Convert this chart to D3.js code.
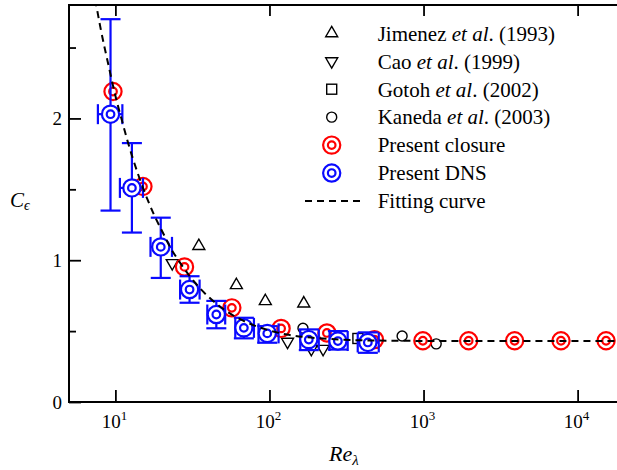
<!DOCTYPE html>
<meta charset="utf-8">
<style>
    body { margin: 0; background: #fff; }
    svg { display: block; }
    text { font-family: "Liberation Serif", "Times New Roman", serif; fill: #000; }
    .axis path.domain { display: none; }
    .axis line { stroke: #000; stroke-width: 1.8; }
    .tick-label { font-size: 19px; }
    .legend text { font-size: 21px; }
</style>
<body>
<script src="https://d3js.org/d3.v7.min.js"></script>
<script>
    // ---- data ----
    var jimenez = [[34.8, 1.10], [61, 0.824], [94, 0.711], [167, 0.695]];
    var cao = [[23.4, 0.98], [131, 0.425], [187, 0.375], [223, 0.375]];
    var gotoh = [[375, 0.448]];
    var kaneda = [[165, 0.52], [726, 0.465], [1208, 0.41]];

    var closure = [[9.65, 2.19], [15.1, 1.52], [28.1, 0.953], [57, 0.664], [119, 0.519],
                   [236, 0.487], [480, 0.44], [990, 0.432], [1963, 0.432], [3900, 0.432],
                   [7800, 0.432], [15300, 0.432]];

    // Re, C, Re low, Re high, C low, C high
    var dns = [
        [9.3, 2.03, 7.7, 11.1, 1.35, 2.70],
        [12.8, 1.51, 10.7, 15.1, 1.195, 1.826],
        [19.7, 1.094, 16.9, 23.3, 0.875, 1.30],
        [30.3, 0.793, 26.3, 35.2, 0.70, 0.887],
        [45.2, 0.617, 39.5, 51.6, 0.52, 0.713],
        [68.2, 0.523, 60, 79.3, 0.449, 0.594],
        [96.8, 0.484, 84.9, 114.6, 0.418, 0.535],
        [180, 0.44, 158.5, 209, 0.366, 0.512],
        [278, 0.43, 245.5, 322, 0.37, 0.50],
        [435, 0.42, 374, 512, 0.347, 0.491]
    ];

    var fitRe = [7.4, 8, 9, 10, 11, 12, 14, 16, 18, 20, 23, 26, 30, 35, 40, 47, 55, 65, 80,
                 100, 130, 170, 250, 400, 700, 1500, 4000, 20000];
    var fitC = [2.84, 2.64, 2.38, 2.16, 1.99, 1.84, 1.61, 1.44, 1.31, 1.21, 1.08, 0.99, 0.895,
                0.808, 0.744, 0.679, 0.627, 0.582, 0.539, 0.504, 0.476, 0.458, 0.444, 0.435,
                0.432, 0.430, 0.430, 0.430];

    var xTicks = [10, 100, 1000, 10000];
    var yMajor = [0, 1, 2];
    var yMinor = [0.5, 1.5, 2.5];

    var legendItems = [
        {sym: "up", parts: [["Jimenez ", 0], ["et al", 1], [". (1993)", 0]]},
        {sym: "down", parts: [["Cao ", 0], ["et al", 1], [". (1999)", 0]]},
        {sym: "square", parts: [["Gotoh ", 0], ["et al", 1], [". (2002)", 0]]},
        {sym: "circle", parts: [["Kaneda ", 0], ["et al", 1], [". (2003)", 0]]},
        {sym: "red", parts: [["Present closure", 0]]},
        {sym: "blue", parts: [["Present DNS", 0]]},
        {sym: "dash", parts: [["Fitting curve", 0]]}
    ];

    var width = 617, height = 470;
    var pLeft = 69, pRight = 624, pTop = 5, pBottom = 402;
    var red = "#ff0000", blue = "#0a0aff";

    var x = d3.scaleLog().domain([5, 2e4]).range([pLeft, pRight]);
    var y = d3.scaleLinear().domain([0, 2.8]).range([pBottom, pTop]);

    var svg = d3.select("body").append("svg")
        .attr("width", width)
        .attr("height", height);

    // ---- axes (inward ticks) ----
    svg.append("g").attr("class", "axis")
        .attr("transform", "translate(0," + pBottom + ")")
        .call(d3.axisBottom(x).tickValues(xTicks).tickSizeInner(-12).tickSizeOuter(0).tickFormat(""));
    svg.append("g").attr("class", "axis")
        .attr("transform", "translate(0," + pTop + ")")
        .call(d3.axisTop(x).tickValues(xTicks).tickSizeInner(-11).tickSizeOuter(0).tickFormat(""));

    svg.append("g").attr("class", "axis")
        .attr("transform", "translate(" + pLeft + ",0)")
        .call(d3.axisLeft(y).tickValues(yMajor).tickSizeInner(-12).tickSizeOuter(0).tickFormat(""));
    svg.append("g").attr("class", "axis")
        .attr("transform", "translate(" + pLeft + ",0)")
        .call(d3.axisLeft(y).tickValues(yMinor).tickSizeInner(-7).tickSizeOuter(0).tickFormat(""));

    // tick labels
    svg.selectAll("text.ylab").data(yMajor).enter().append("text")
        .attr("class", "tick-label")
        .attr("x", pLeft - 7)
        .attr("y", function(d) { return y(d) + 6.5; })
        .attr("text-anchor", "end")
        .text(function(d) { return d; });

    var xl = svg.selectAll("text.xlab").data(xTicks).enter().append("text")
        .attr("class", "tick-label")
        .attr("x", function(d) { return x(d) - 1; })
        .attr("y", pBottom + 26)
        .attr("text-anchor", "middle");
    xl.append("tspan").text("10");
    xl.append("tspan").attr("dy", -8).style("font-size", "13px")
        .text(function(d) { return Math.round(Math.log10(d)); });

    // frame
    svg.append("rect")
        .attr("x", pLeft).attr("y", pTop)
        .attr("width", pRight - pLeft).attr("height", pBottom - pTop)
        .attr("fill", "none").attr("stroke", "#000").attr("stroke-width", 2);

    // axis titles
    var yt = svg.append("text").attr("x", 10).attr("y", 207)
        .style("font-size", "21px").style("font-style", "italic");
    yt.append("tspan").text("C");
    yt.append("tspan").attr("dy", 3).style("font-size", "14px").text("\u03f5");

    var xt = svg.append("text").attr("x", 329).attr("y", 461)
        .style("font-size", "22px").style("font-style", "italic");
    xt.append("tspan").text("Re");
    xt.append("tspan").attr("dy", 4).style("font-size", "15px").text("\u03bb");

    // ---- symbols ----
    function tri(g, cx, cy, down) {
        var h = 10.4, w = 6;
        var s = down ? -1 : 1;
        g.append("path")
            .attr("d", "M" + cx + "," + (cy - s * h * 2 / 3) +
                       "L" + (cx + w) + "," + (cy + s * h / 3) +
                       "L" + (cx - w) + "," + (cy + s * h / 3) + "Z")
            .attr("fill", "none").attr("stroke", "#000").attr("stroke-width", 1.4);
    }
    function sq(g, cx, cy) {
        g.append("rect").attr("x", cx - 5).attr("y", cy - 5).attr("width", 10).attr("height", 10)
            .attr("fill", "none").attr("stroke", "#000").attr("stroke-width", 1.4);
    }
    function circ(g, cx, cy) {
        g.append("circle").attr("cx", cx).attr("cy", cy).attr("r", 5)
            .attr("fill", "none").attr("stroke", "#000").attr("stroke-width", 1.4);
    }
    function ring(g, cx, cy, col) {
        g.append("circle").attr("cx", cx).attr("cy", cy).attr("r", 8.6)
            .attr("fill", "none").attr("stroke", col).attr("stroke-width", 2.2);
        g.append("circle").attr("cx", cx).attr("cy", cy).attr("r", 3.8)
            .attr("fill", "none").attr("stroke", col).attr("stroke-width", 2.2);
    }

    var marks = svg.append("g");
    jimenez.forEach(function(d) { tri(marks, x(d[0]), y(d[1]), false); });
    cao.forEach(function(d) { tri(marks, x(d[0]), y(d[1]), true); });
    gotoh.forEach(function(d) { sq(marks, x(d[0]), y(d[1])); });
    kaneda.forEach(function(d) { circ(marks, x(d[0]), y(d[1])); });

    closure.forEach(function(d) { ring(marks, x(d[0]), y(d[1]), red); });

    // DNS with error bars
    var cap = 10;
    var eb = svg.append("g").attr("stroke", blue).attr("stroke-width", 2.2).attr("fill", "none");
    dns.forEach(function(d) {
        var cx = x(d[0]), cy = y(d[1]);
        var x0 = x(d[2]), x1 = x(d[3]), y0 = y(d[4]), y1 = y(d[5]);
        eb.append("line").attr("x1", cx).attr("x2", cx).attr("y1", y0).attr("y2", y1);
        eb.append("line").attr("x1", cx - cap).attr("x2", cx + cap).attr("y1", y0).attr("y2", y0);
        eb.append("line").attr("x1", cx - cap).attr("x2", cx + cap).attr("y1", y1).attr("y2", y1);
        eb.append("line").attr("x1", x0).attr("x2", x1).attr("y1", cy).attr("y2", cy);
        eb.append("line").attr("x1", x0).attr("x2", x0).attr("y1", cy - cap).attr("y2", cy + cap);
        eb.append("line").attr("x1", x1).attr("x2", x1).attr("y1", cy - cap).attr("y2", cy + cap);
        eb.append("circle").attr("cx", cx).attr("cy", cy).attr("r", 8.6).attr("fill", "#fff");
        eb.append("circle").attr("cx", cx).attr("cy", cy).attr("r", 3.8);
    });

    // fitting curve
    svg.append("clipPath").attr("id", "plotclip")
        .append("rect").attr("x", pLeft).attr("y", pTop)
        .attr("width", pRight - pLeft).attr("height", pBottom - pTop);

    var fit = fitRe.map(function(r, i) { return [r, fitC[i]]; });
    svg.append("path")
        .datum(fit)
        .attr("clip-path", "url(#plotclip)")
        .attr("fill", "none")
        .attr("stroke", "#000")
        .attr("stroke-width", 2)
        .attr("stroke-dasharray", "7,5")
        .attr("d", d3.line()
            .x(function(d) { return x(d[0]); })
            .y(function(d) { return y(d[1]); })
            .curve(d3.curveMonotoneX));

    // ---- legend ----
    var lg = svg.append("g").attr("class", "legend");
    var symX = 331.7, txtX = 377.7, row0 = 33.3, rowH = 27.95;
    legendItems.forEach(function(item, i) {
        var cy = row0 + i * rowH;
        if (item.sym === "up") tri(lg, symX, cy, false);
        else if (item.sym === "down") tri(lg, symX, cy, true);
        else if (item.sym === "square") sq(lg, symX, cy);
        else if (item.sym === "circle") circ(lg, symX, cy);
        else if (item.sym === "red") ring(lg, symX, cy, red);
        else if (item.sym === "blue") ring(lg, symX, cy, blue);
        else if (item.sym === "dash") {
            lg.append("line").attr("x1", 305).attr("x2", 360).attr("y1", cy).attr("y2", cy)
                .attr("stroke", "#000").attr("stroke-width", 2).attr("stroke-dasharray", "7,5");
        }
        var t = lg.append("text").attr("x", txtX).attr("y", cy + 7.3);
        item.parts.forEach(function(p) {
            t.append("tspan").style("font-style", p[1] ? "italic" : "normal").text(p[0]);
        });
    });
</script>
</body>
